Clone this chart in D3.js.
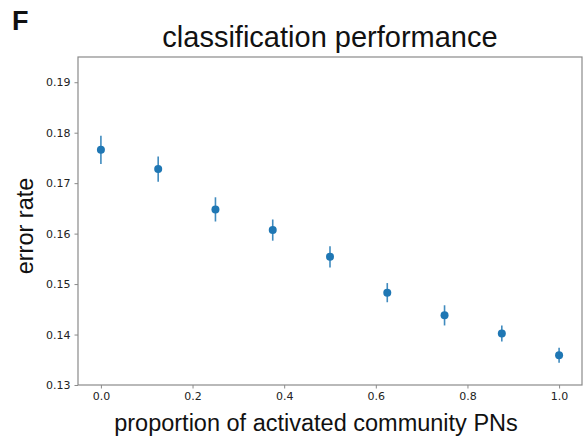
<!DOCTYPE html>
<html>
<head>
<meta charset="utf-8">
<script src="https://cdn.jsdelivr.net/npm/d3@7"></script>
<style>
  html, body { margin: 0; padding: 0; background: #fff; }
  svg { display: block; }
</style>
</head>
<body>
<svg id="chart" width="586" height="441"></svg>
<script>
// Error rate vs. proportion of activated community PNs (mean ± error)
const proportions = [0, 0.125, 0.25, 0.375, 0.5, 0.625, 0.75, 0.875, 1.0];
const errorRate   = [0.1766, 0.1728, 0.1648, 0.1607, 0.1554, 0.1483, 0.1438, 0.1402, 0.1359];
const errorBar    = [0.0028, 0.0025, 0.0024, 0.0021, 0.0021, 0.0019, 0.0020, 0.0016, 0.0015];
const xTicks = [0, 0.2, 0.4, 0.6, 0.8, 1.0];
const yTicks = [0.13, 0.14, 0.15, 0.16, 0.17, 0.18, 0.19];

(function () {
  const svg = d3.select("#chart");
  const plotLeft = 78, plotRight = 582, plotTop = 57, plotBottom = 385;

  const x = d3.scaleLinear().domain([-0.05, 1.05]).range([plotLeft, plotRight]);
  const y = d3.scaleLinear().domain([0.13, 0.195]).range([plotBottom, plotTop]);

  const spine = "#8a8a8a";
  const blue = "#1f77b4";
  const tickFont = "DejaVu Sans, sans-serif";
  const labelFont = "Liberation Sans, Arial, sans-serif";

  // axes frame
  svg.append("rect")
    .attr("x", plotLeft).attr("y", plotTop)
    .attr("width", plotRight - plotLeft).attr("height", plotBottom - plotTop)
    .attr("fill", "none").attr("stroke", spine).attr("stroke-width", 1.2);

  // x axis
  const gx = svg.append("g").attr("transform", `translate(0,${plotBottom})`)
    .call(d3.axisBottom(x).tickValues(xTicks).tickSize(3.5).tickPadding(4)
      .tickFormat(d3.format(".1f")));
  gx.select(".domain").remove();
  gx.selectAll("line").attr("stroke", spine);
  gx.selectAll("text").attr("font-family", tickFont).attr("font-size", 11).attr("fill", "#222");

  // y axis
  const gy = svg.append("g").attr("transform", `translate(${plotLeft},0)`)
    .call(d3.axisLeft(y).tickValues(yTicks).tickSize(3.5).tickPadding(4)
      .tickFormat(d3.format(".2f")));
  gy.select(".domain").remove();
  gy.selectAll("line").attr("stroke", spine);
  gy.selectAll("text").attr("font-family", tickFont).attr("font-size", 11).attr("fill", "#222");

  // error bars
  svg.append("g").selectAll("line")
    .data(proportions)
    .join("line")
    .attr("x1", d => x(d)).attr("x2", d => x(d))
    .attr("y1", (d, i) => y(errorRate[i] + errorBar[i]))
    .attr("y2", (d, i) => y(errorRate[i] - errorBar[i]))
    .attr("stroke", blue).attr("stroke-width", 1.6).attr("opacity", 0.85);

  // points
  svg.append("g").selectAll("circle")
    .data(proportions)
    .join("circle")
    .attr("cx", d => x(d))
    .attr("cy", (d, i) => y(errorRate[i]))
    .attr("r", 4)
    .attr("fill", blue);

  // title
  svg.append("text")
    .attr("x", 330).attr("y", 47)
    .attr("text-anchor", "middle")
    .attr("font-family", labelFont).attr("font-size", 29)
    .attr("fill", "#111")
    .text("classification performance");

  // axis labels
  svg.append("text")
    .attr("x", 316).attr("y", 431)
    .attr("text-anchor", "middle")
    .attr("font-family", labelFont).attr("font-size", 23.5)
    .attr("fill", "#111")
    .text("proportion of activated community PNs");

  svg.append("text")
    .attr("transform", "translate(33,226) rotate(-90)")
    .attr("text-anchor", "middle")
    .attr("font-family", labelFont).attr("font-size", 23.5)
    .attr("fill", "#111")
    .text("error rate");

  // panel letter
  svg.append("text")
    .attr("x", 12).attr("y", 30)
    .attr("font-family", labelFont).attr("font-size", 27).attr("font-weight", "bold")
    .attr("fill", "#111")
    .text("F");
})();
</script>
</body>
</html>
